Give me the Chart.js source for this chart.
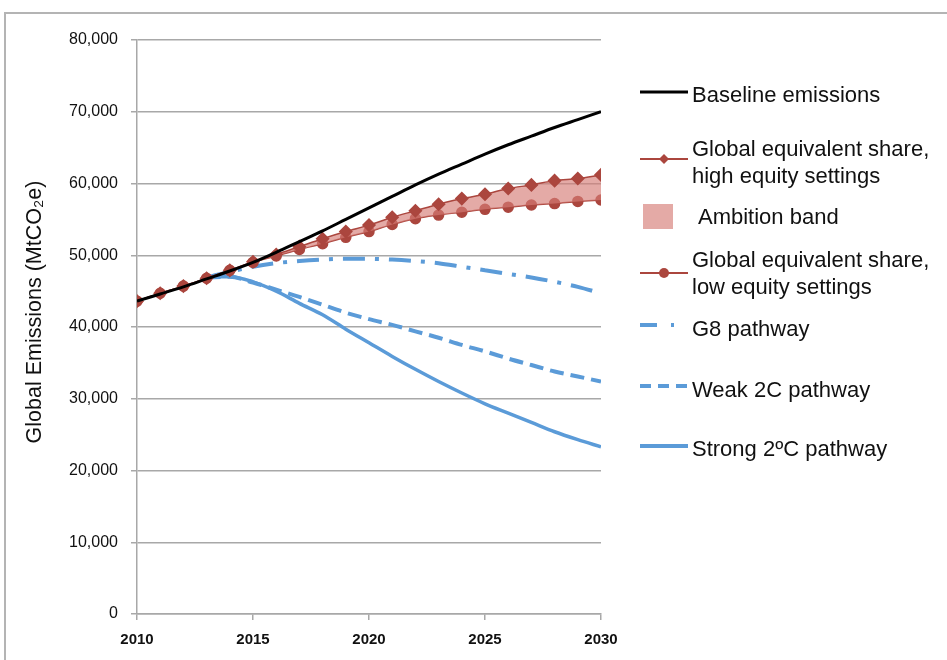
<!DOCTYPE html>
<html>
<head>
<meta charset="utf-8">
<script src="https://cdn.jsdelivr.net/npm/chart.js@4.4.1/dist/chart.umd.min.js"></script>
<style>
  body { margin: 0; background: #fff; font-family: "Liberation Sans", Arial, sans-serif; }
  #wrap { position: relative; width: 947px; height: 660px; overflow: hidden; }
  #frame { position: absolute; left: 4px; top: 12px; width: 1000px; height: 700px;
           border-left: 2px solid #b4b4b4; border-top: 2px solid #b4b4b4; }
  #chart { position: absolute; left: 0; top: 0; }
  .lg { position: absolute; left: 692px; font-size: 22px; line-height: 27px; color: #111; white-space: nowrap; }
  .sym { position: absolute; left: 638px; }
</style>
</head>
<body>
<div id="wrap">
  <div id="frame"></div>
  <canvas id="chart" width="947" height="660"></canvas>
  <div id="legend"></div>
</div>
<script>
// data (MtCO2e)
const years = [2010, 2011, 2012, 2013, 2014, 2015, 2016, 2017, 2018, 2019, 2020,
               2021, 2022, 2023, 2024, 2025, 2026, 2027, 2028, 2029, 2030];
const baseline   = [43600, 44600, 45600, 46700, 47800, 49000, 50400, 51900, 53400, 55000, 56600,
                    58200, 59800, 61300, 62700, 64100, 65400, 66600, 67800, 68900, 70000];
const highEquity = [43600, 44700, 45700, 46800, 47900, 49100, 50100, 51200, 52300, 53300, 54200,
                    55300, 56200, 57100, 57900, 58500, 59300, 59800, 60400, 60700, 61200];
const lowEquity  = [43600, 44700, 45700, 46800, 47900, 49000, 49900, 50800, 51600, 52500, 53300,
                    54300, 55100, 55600, 56000, 56400, 56700, 57000, 57200, 57500, 57700];
const g8Path     = [null, null, null, 46900, 47700, 48400, 48900, 49200, 49400, 49500, 49500,
                    49400, 49200, 48900, 48400, 47900, 47400, 46900, 46300, 45600, 44700];
const weak2C     = [null, null, null, 46900, 47000, 46200, 45200, 44200, 43100, 42000, 41100,
                    40300, 39400, 38500, 37500, 36600, 35600, 34700, 33800, 33100, 32400];
const strong2C   = [null, null, null, 47000, 47000, 46300, 45000, 43300, 41700, 39700, 37800,
                    35900, 34100, 32400, 30800, 29300, 28000, 26700, 25400, 24300, 23300];
const yTicks = [0, 10000, 20000, 30000, 40000, 50000, 60000, 70000, 80000];
const xTicks = [2010, 2015, 2020, 2025, 2030];
const yTitle = 'Global Emissions (MtCO₂e)';

const RED = '#ab463e';
const BAND = 'rgba(214,125,118,0.65)';
const BLUE = '#5b9bd8';

// y axis title, drawn by hand so it can sit a bit above the plot centre like the original
const yTitlePlugin = {
  id: 'yTitle',
  afterDraw(chart) {
    const c = chart.ctx;
    c.save();
    c.translate(35, 312);
    c.rotate(-Math.PI / 2);
    c.font = '21.5px "Liberation Sans", Arial';
    c.fillStyle = '#111';
    c.textAlign = 'center';
    c.textBaseline = 'middle';
    c.fillText(yTitle, 0, 0);
    c.restore();
  }
};

const ctx = document.getElementById('chart');

const chart = new Chart(ctx, {
  type: 'line',
  data: {
    labels: years,
    datasets: [
      { label: 'Baseline emissions', data: baseline, borderColor: '#000', borderWidth: 3,
        pointRadius: 0, fill: false },
      { label: 'Global equivalent share, high equity settings', data: highEquity,
        borderColor: RED, borderWidth: 1.5, backgroundColor: BAND, fill: '+1',
        pointStyle: 'rectRot', pointRadius: 6, pointBackgroundColor: RED, pointBorderColor: RED },
      { label: 'Global equivalent share, low equity settings', data: lowEquity,
        borderColor: RED, borderWidth: 1.5, fill: false,
        pointStyle: 'circle', pointRadius: 5, pointBackgroundColor: RED, pointBorderColor: RED },
      { label: 'G8 pathway', data: g8Path, borderColor: BLUE, borderWidth: 4,
        borderDash: [22, 10, 4, 10], pointRadius: 0, fill: false },
      { label: 'Weak 2C pathway', data: weak2C, borderColor: BLUE, borderWidth: 4,
        borderDash: [14, 7], pointRadius: 0, fill: false },
      { label: 'Strong 2ºC pathway', data: strong2C, borderColor: BLUE, borderWidth: 3.5,
        pointRadius: 0, fill: false }
    ]
  },
  plugins: [yTitlePlugin],
  options: {
    responsive: false,
    animation: false,
    cubicInterpolationMode: 'monotone',
    layout: { padding: { left: 19, top: 40, right: 346, bottom: 0 } },
    plugins: {
      legend: { display: false },
      tooltip: { enabled: false }
    },
    scales: {
      x: {
        type: 'linear',
        min: 2010, max: 2030,
        afterBuildTicks: s => { s.ticks = xTicks.map(v => ({ value: v })); },
        afterFit: s => { s.height = 46; },
        grid: { drawOnChartArea: false, drawTicks: true, tickLength: 6, color: '#a8a8a8', lineWidth: 1.5 },
        border: { color: '#a8a8a8', width: 1.5 },
        ticks: {
          padding: 11,
          color: '#111',
          font: { family: '"Liberation Sans", Arial', size: 15, weight: 'bold' },
          callback: v => String(v)
        }
      },
      y: {
        min: 0, max: 80000,
        afterBuildTicks: s => { s.ticks = yTicks.map(v => ({ value: v })); },
        afterFit: s => { s.width = 118; },
        grid: { color: '#a8a8a8', lineWidth: 1.5, tickLength: 6 },
        border: { color: '#a8a8a8', width: 1.5 },
        ticks: {
          padding: 13,
          color: '#111',
          font: { family: '"Liberation Sans", Arial', size: 16 },
          callback: v => v.toLocaleString('en-US')
        }
      }
    }
  }
});

// legend drawn as html to get the two-line labels and the band swatch
function symbol(kind) {
  const w = 52, h = 16, m = h / 2;
  let s = '';
  if (kind === 'base') s = `<line x1="2" y1="${m}" x2="50" y2="${m}" stroke="#000" stroke-width="3"/>`;
  if (kind === 'high') s = `<line x1="2" y1="${m}" x2="50" y2="${m}" stroke="${RED}" stroke-width="2"/>` +
    `<polygon points="26,${m - 5} 31,${m} 26,${m + 5} 21,${m}" fill="${RED}"/>`;
  if (kind === 'low') s = `<line x1="2" y1="${m}" x2="50" y2="${m}" stroke="${RED}" stroke-width="2"/>` +
    `<circle cx="26" cy="${m}" r="5" fill="${RED}"/>`;
  if (kind === 'g8') s = `<line x1="2" y1="${m}" x2="50" y2="${m}" stroke="${BLUE}" stroke-width="4" stroke-dasharray="17 14 3 20"/>`;
  if (kind === 'weak') s = `<line x1="2" y1="${m}" x2="50" y2="${m}" stroke="${BLUE}" stroke-width="4" stroke-dasharray="11 7"/>`;
  if (kind === 'strong') s = `<line x1="2" y1="${m}" x2="50" y2="${m}" stroke="${BLUE}" stroke-width="4"/>`;
  return `<svg width="${w}" height="${h}">${s}</svg>`;
}

const legendRows = [
  { text: ['Baseline emissions'], textY: 94, kind: 'base', symY: 92 },
  { text: ['Global equivalent share,', 'high equity settings'], textY: 148, kind: 'high', symY: 159 },
  { text: ['Ambition band'], textY: 216, kind: 'band', symY: 216, left: 698 },
  { text: ['Global equivalent share,', 'low equity settings'], textY: 259, kind: 'low', symY: 273 },
  { text: ['G8 pathway'], textY: 328, kind: 'g8', symY: 325 },
  { text: ['Weak 2C pathway'], textY: 389, kind: 'weak', symY: 386 },
  { text: ['Strong 2ºC pathway'], textY: 448, kind: 'strong', symY: 446 }
];

const legend = document.getElementById('legend');
legendRows.forEach(r => {
  const t = document.createElement('div');
  t.className = 'lg';
  t.style.top = (r.textY - 13.5) + 'px';
  if (r.left) t.style.left = r.left + 'px';
  t.innerHTML = r.text.join('<br>');
  legend.appendChild(t);
  if (r.kind === 'band') {
    const b = document.createElement('div');
    b.style.cssText = `position:absolute;left:643px;top:${r.symY - 12}px;width:30px;height:25px;background:${BAND};`;
    legend.appendChild(b);
  } else {
    const s = document.createElement('div');
    s.className = 'sym';
    s.style.top = (r.symY - 8) + 'px';
    s.innerHTML = symbol(r.kind);
    legend.appendChild(s);
  }
});
</script>
</body>
</html>
